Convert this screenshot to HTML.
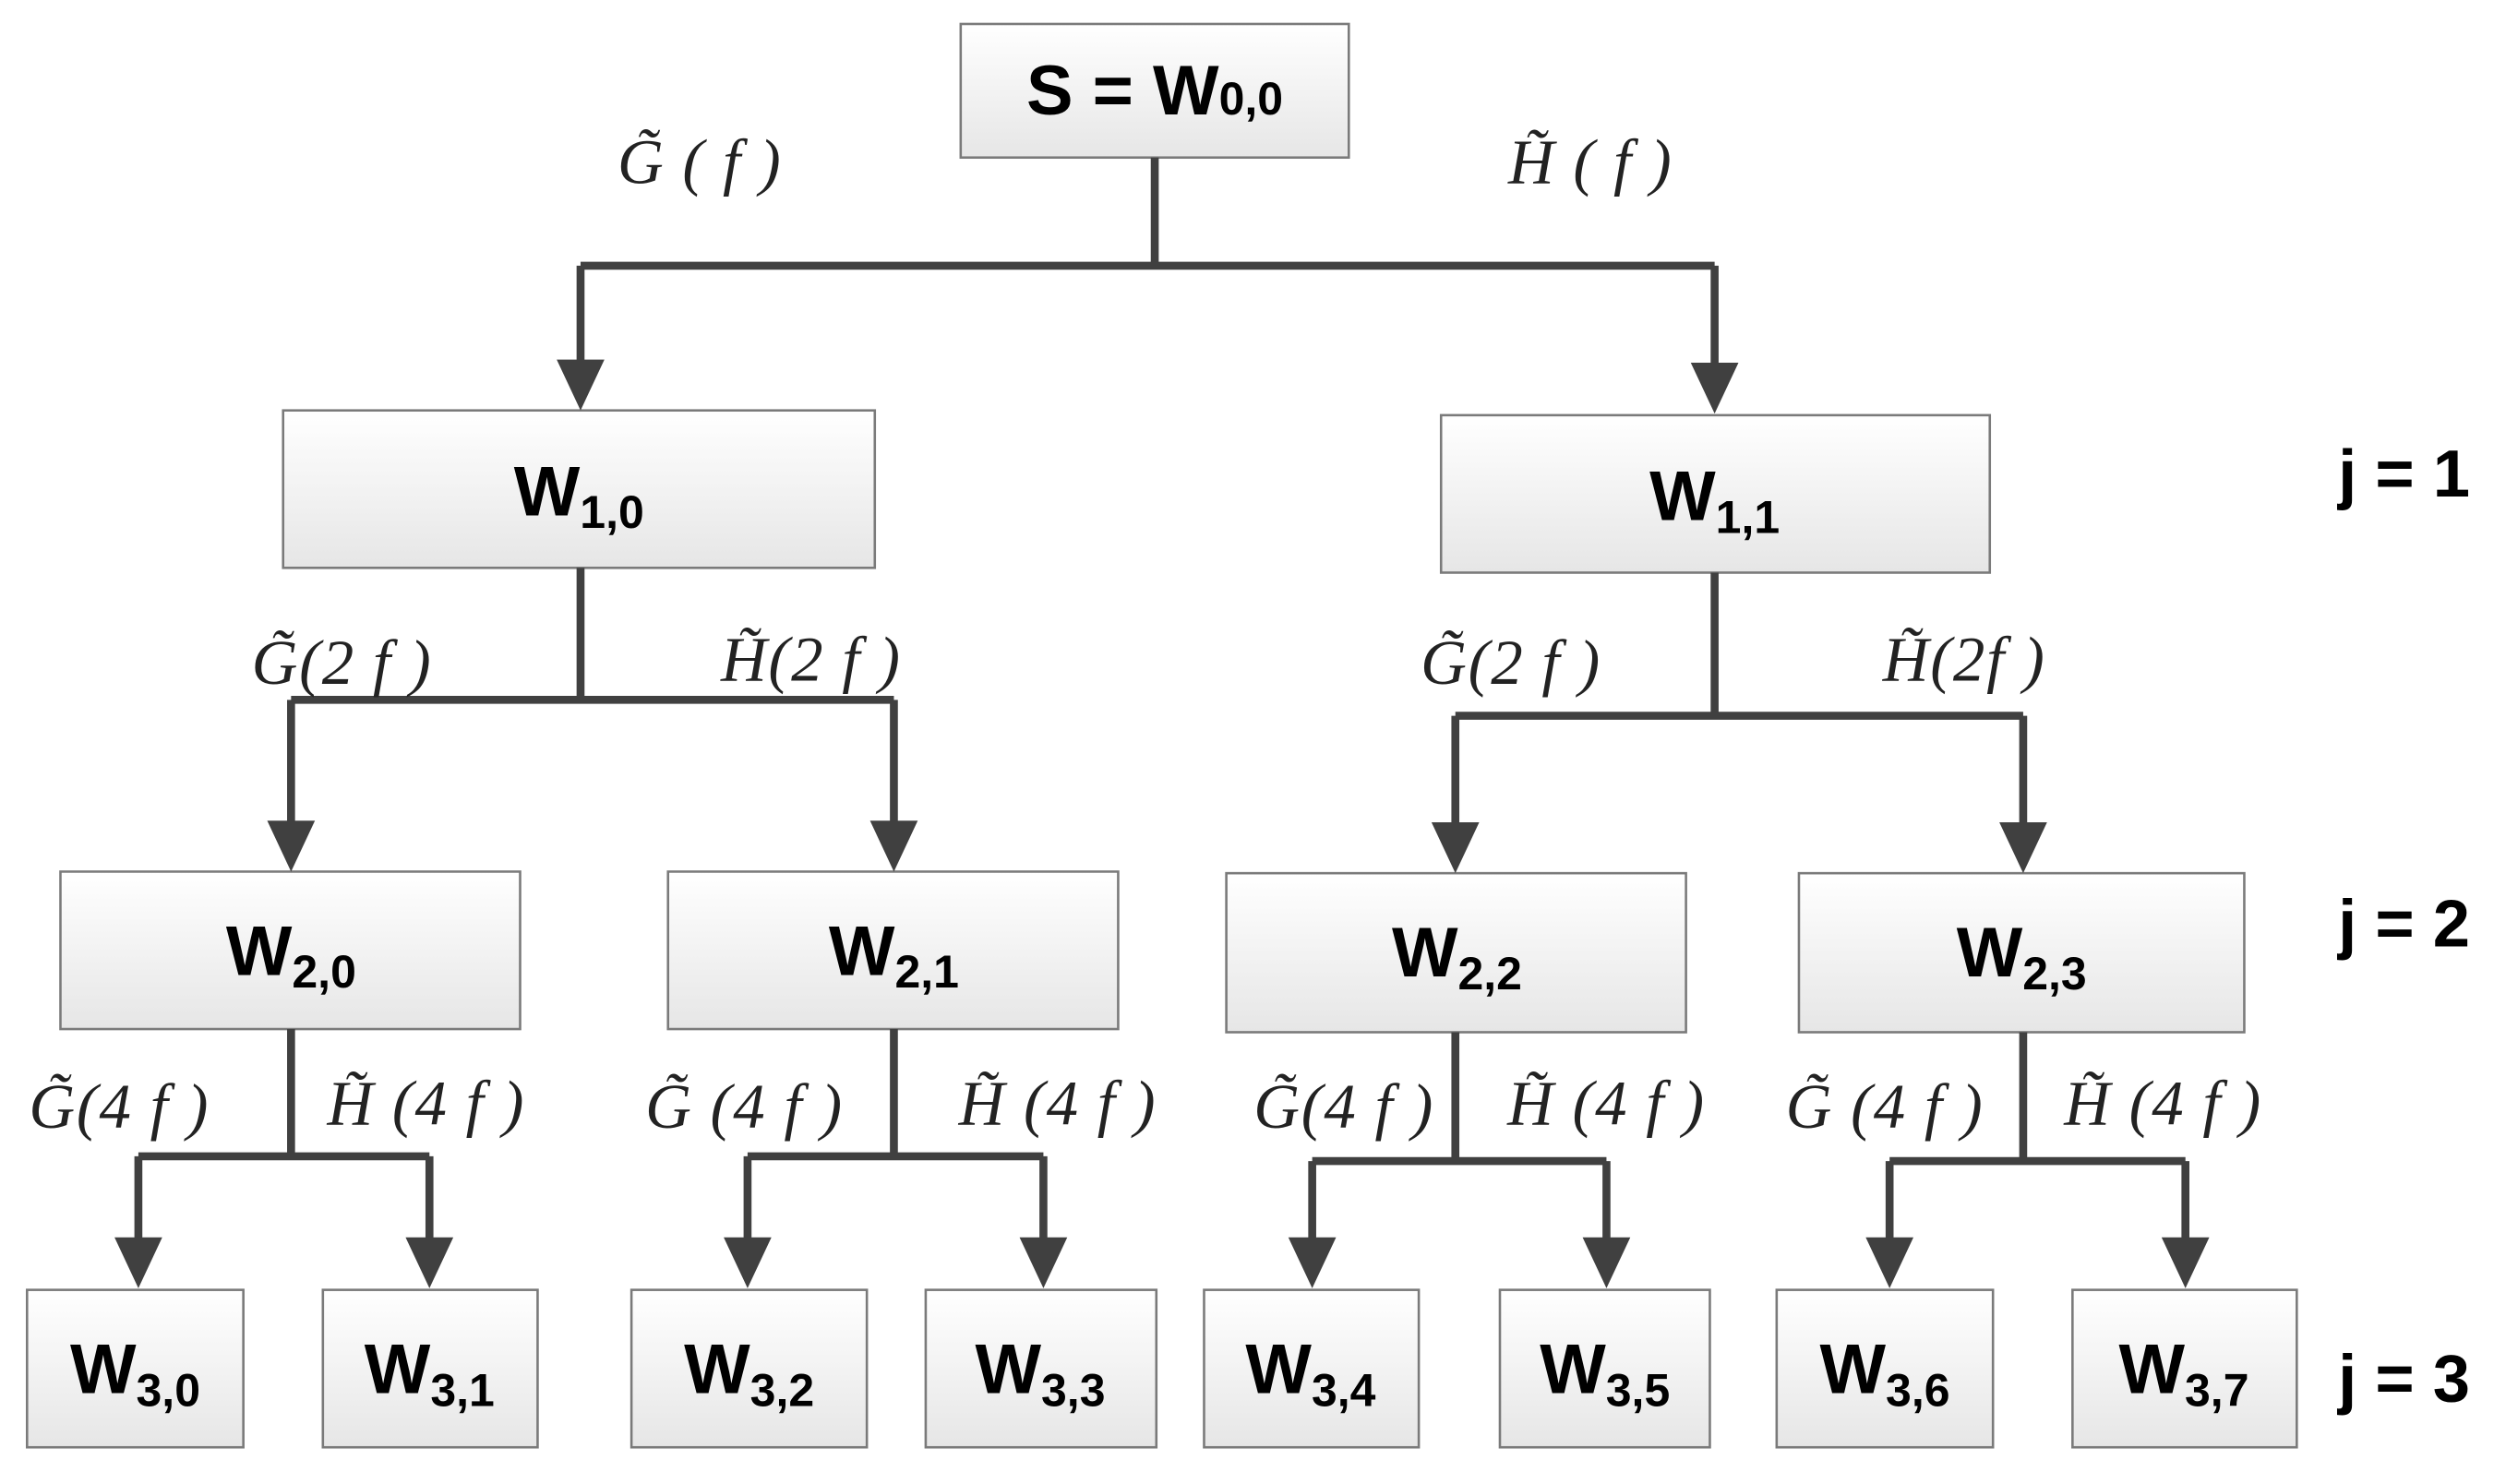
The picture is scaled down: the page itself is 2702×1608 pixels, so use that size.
<!DOCTYPE html>
<html><head><meta charset="utf-8"><style>
html,body{margin:0;padding:0;background:#fff;}
svg{display:block;}
.bx{fill:url(#g);stroke:#7a7a7a;stroke-width:1.5;}
.ln{stroke:#404040;stroke-width:5;fill:none;}
.ah{fill:#404040;}
.w{font-family:"Liberation Sans",sans-serif;font-weight:bold;font-size:44px;fill:#000;}
.s{font-size:29px;}
.lb{font-family:"Liberation Serif",serif;font-style:italic;font-size:40px;fill:#222;letter-spacing:1px;}
.j{font-family:"Liberation Sans",sans-serif;font-weight:bold;font-size:42px;fill:#000;}
</style></head><body>
<svg width="2702" height="1608" viewBox="0 0 1568 933" xmlns="http://www.w3.org/2000/svg">
<defs><linearGradient id="g" x1="0" y1="0" x2="0" y2="1"><stop offset="0" stop-color="#ffffff"/><stop offset="1" stop-color="#e6e6e6"/></linearGradient></defs>

<rect class="bx" x="604" y="15" width="244" height="84"/>
<text class="w" x="726" y="72" text-anchor="middle">S = W<tspan class="s">0,0</tspan></text>

<rect class="bx" x="178" y="258" width="372" height="99"/>
<rect class="bx" x="906" y="261" width="345" height="99"/>
<text class="w" x="364" y="324" text-anchor="middle">W<tspan class="s" dy="8">1,0</tspan></text>
<text class="w" x="1078" y="327" text-anchor="middle">W<tspan class="s" dy="8">1,1</tspan></text>

<rect class="bx" x="38" y="548" width="289" height="99"/>
<rect class="bx" x="420" y="548" width="283" height="99"/>
<rect class="bx" x="771" y="549" width="289" height="100"/>
<rect class="bx" x="1131" y="549" width="280" height="100"/>
<text class="w" x="183" y="613" text-anchor="middle">W<tspan class="s" dy="8">2,0</tspan></text>
<text class="w" x="562" y="613" text-anchor="middle">W<tspan class="s" dy="8">2,1</tspan></text>
<text class="w" x="916" y="614" text-anchor="middle">W<tspan class="s" dy="8">2,2</tspan></text>
<text class="w" x="1271" y="614" text-anchor="middle">W<tspan class="s" dy="8">2,3</tspan></text>

<rect class="bx" x="17" y="811" width="136" height="99"/>
<rect class="bx" x="203" y="811" width="135" height="99"/>
<rect class="bx" x="397" y="811" width="148" height="99"/>
<rect class="bx" x="582" y="811" width="145" height="99"/>
<rect class="bx" x="757" y="811" width="135" height="99"/>
<rect class="bx" x="943" y="811" width="132" height="99"/>
<rect class="bx" x="1117" y="811" width="136" height="99"/>
<rect class="bx" x="1303" y="811" width="141" height="99"/>
<g class="w" text-anchor="middle">
<text x="85" y="876">W<tspan class="s" dy="8">3,0</tspan></text>
<text x="270" y="876">W<tspan class="s" dy="8">3,1</tspan></text>
<text x="471" y="876">W<tspan class="s" dy="8">3,2</tspan></text>
<text x="654" y="876">W<tspan class="s" dy="8">3,3</tspan></text>
<text x="824" y="876">W<tspan class="s" dy="8">3,4</tspan></text>
<text x="1009" y="876">W<tspan class="s" dy="8">3,5</tspan></text>
<text x="1185" y="876">W<tspan class="s" dy="8">3,6</tspan></text>
<text x="1373" y="876">W<tspan class="s" dy="8">3,7</tspan></text>
</g>

<path class="ln" d="M726 99V167M365 167H1078M365 167V230M1078 167V232"/>
<path class="ah" d="M350 226H380L365 258Z M1063 228H1093L1078 260Z"/>

<path class="ln" d="M365 357V440M183 440H562M183 440V518M562 440V518"/>
<path class="ah" d="M168 516H198L183 548Z M547 516H577L562 548Z"/>
<path class="ln" d="M1078 360V450M915 450H1272M915 450V519M1272 450V519"/>
<path class="ah" d="M900 517H930L915 549Z M1257 517H1287L1272 549Z"/>

<path class="ln" d="M183 647V727M87 727H270M87 727V781M270 727V781"/>
<path class="ln" d="M562 647V727M470 727H656M470 727V781M656 727V781"/>
<path class="ln" d="M915 649V730M825 730H1010M825 730V781M1010 730V781"/>
<path class="ln" d="M1272 649V730M1188 730H1374M1188 730V781M1374 730V781"/>
<path class="ah" d="M72 778H102L87 810Z M255 778H285L270 810Z M455 778H485L470 810Z M641 778H671L656 810Z M810 778H840L825 810Z M995 778H1025L1010 810Z M1173 778H1203L1188 810Z M1359 778H1389L1374 810Z"/>

<g class="lb" text-anchor="middle">
<text x="440" y="115">G̃ ( f )</text>
<text x="1000" y="115">H̃ ( f )</text>
<text x="215" y="430">G̃(2 f )</text>
<text x="510" y="428">H̃(2 f )</text>
<text x="950" y="430">G̃(2 f )</text>
<text x="1235" y="428">H̃(2f )</text>
<text x="75" y="709">G̃(4 f )</text>
<text x="268" y="707">H̃ (4 f )</text>
<text x="468" y="709">G̃ (4 f )</text>
<text x="665" y="707">H̃ (4 f )</text>
<text x="845" y="709">G̃(4 f )</text>
<text x="1010" y="707">H̃ (4 f )</text>
<text x="1185" y="709">G̃ (4 f )</text>
<text x="1360" y="707">H̃ (4 f )</text>
</g>

<text class="j" x="1470" y="312">j = 1</text>
<text class="j" x="1470" y="595">j = 2</text>
<text class="j" x="1470" y="881">j = 3</text>
</svg>
</body></html>
